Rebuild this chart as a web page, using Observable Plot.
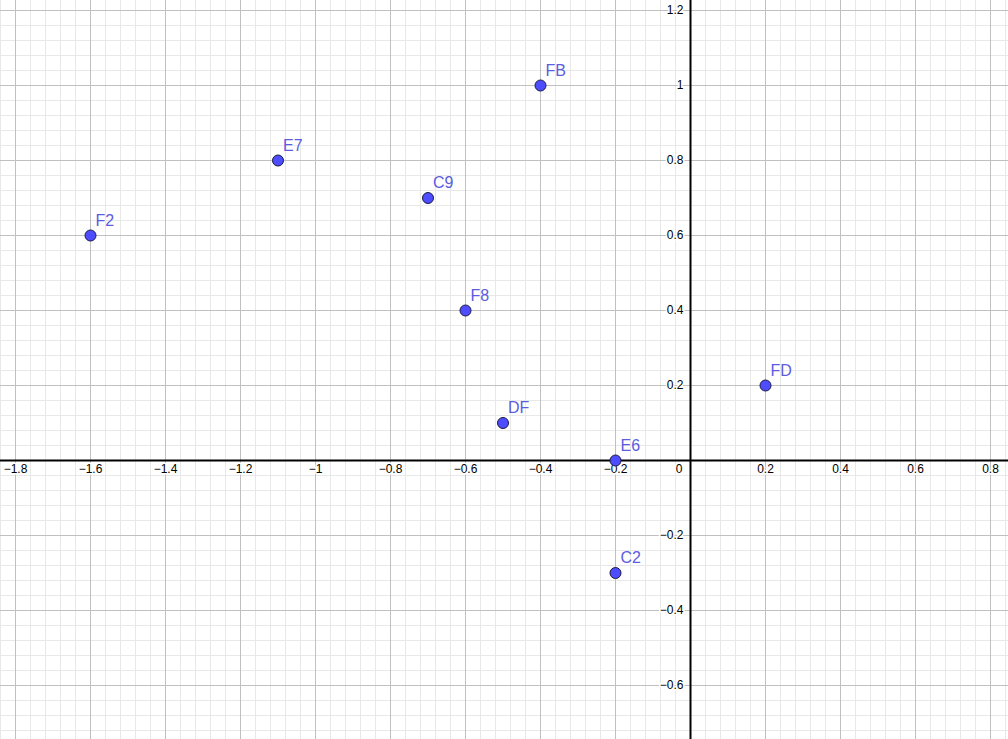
<!DOCTYPE html>
<html>
<head>
<meta charset="utf-8">
<script src="https://cdn.jsdelivr.net/npm/d3@7"></script>
<script src="https://cdn.jsdelivr.net/npm/@observablehq/plot@0.6"></script>
<style>
  html, body { margin: 0; padding: 0; background: #fff; }
  #chart svg { display: block; }
</style>
</head>
<body>
<div id="chart"></div>
<script>
// Named points on the plane
const names = ["F2", "E7", "C9", "FB", "F8", "DF", "E6", "C2", "FD"];
const xs    = [-1.6, -1.1, -0.7, -0.4, -0.6, -0.5, -0.2, -0.2, 0.2];
const ys    = [0.6, 0.8, 0.7, 1.0, 0.4, 0.1, 0.0, -0.3, 0.2];

// Axis tick values (major grid every 0.2)
const xTicks = [-1.8, -1.6, -1.4, -1.2, -1, -0.8, -0.6, -0.4, -0.2, 0.2, 0.4, 0.6, 0.8];
const yTicks = [-0.6, -0.4, -0.2, 0.2, 0.4, 0.6, 0.8, 1, 1.2];

const xDomain = [-1.84, 0.848];
const yDomain = [-0.744, 1.2267];

const points = names.map((name, i) => ({name, x: xs[i], y: ys[i]}));

// Minor grid: five subdivisions per major step
const step = 0.04;
const minorX = d3.range(Math.ceil(xDomain[0] / step), Math.floor(xDomain[1] / step) + 1).map(k => +(k * step).toFixed(4));
const minorY = d3.range(Math.ceil(yDomain[0] / step), Math.floor(yDomain[1] / step) + 1).map(k => +(k * step).toFixed(4));
const majorX = [...xTicks, 0];
const majorY = [...yTicks, 0];

const fmt = v => String(v).replace("-", "\u2212");
const font = "Liberation Sans, Arial, sans-serif";

const chart = Plot.plot({
  width: 1008,
  height: 739,
  margin: 0,
  style: {background: "#fff", fontFamily: font},
  x: {domain: xDomain, axis: null},
  y: {domain: yDomain, axis: null},
  marks: [
    Plot.ruleX(minorX, {stroke: "#e8e8e8", strokeWidth: 1}),
    Plot.ruleY(minorY, {stroke: "#e8e8e8", strokeWidth: 1}),
    Plot.ruleX(majorX, {stroke: "#c0c0c0", strokeWidth: 1}),
    Plot.ruleY(majorY, {stroke: "#c0c0c0", strokeWidth: 1}),
    Plot.ruleX([0], {stroke: "#000", strokeWidth: 2}),
    Plot.ruleY([0], {stroke: "#000", strokeWidth: 2}),
    // x tick labels below the horizontal axis
    Plot.text(xTicks, {
      x: d => d, y: () => 0, text: fmt,
      lineAnchor: "top", dy: 4, fontSize: 12, fill: "#000",
      stroke: "#fff", strokeWidth: 3
    }),
    Plot.text([0], {
      x: () => 0, y: () => 0, text: () => "0",
      lineAnchor: "top", textAnchor: "end", dx: -8, dy: 4, fontSize: 12, fill: "#000",
      stroke: "#fff", strokeWidth: 3
    }),
    // y tick labels left of the vertical axis
    Plot.text(yTicks, {
      x: () => 0, y: d => d, text: fmt,
      textAnchor: "end", dx: -7, fontSize: 12, fill: "#000",
      stroke: "#fff", strokeWidth: 3
    }),
    Plot.dot(points, {
      x: "x", y: "y", r: 5.5,
      fill: "#4d4dff", stroke: "#1a1a40", strokeWidth: 1
    }),
    Plot.text(points, {
      x: "x", y: "y", text: "name",
      textAnchor: "start", lineAnchor: "bottom", dx: 5, dy: -10,
      fontSize: 16, fill: "#5c5ce0"
    })
  ]
});

document.getElementById("chart").append(chart);
</script>
</body>
</html>
